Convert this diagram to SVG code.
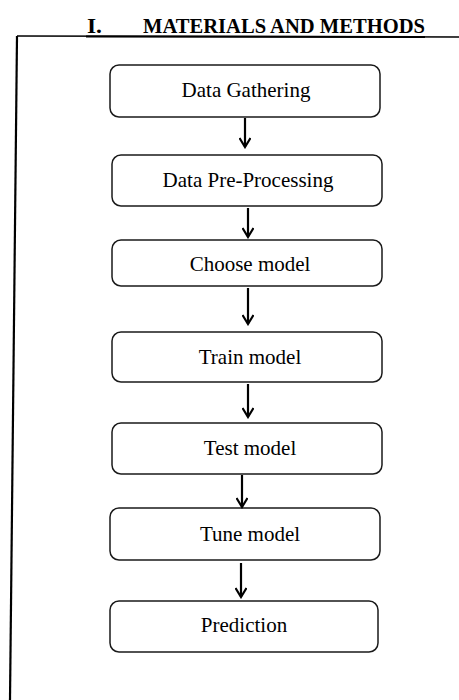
<svg xmlns="http://www.w3.org/2000/svg" width="459" height="700" viewBox="0 0 459 700">
<style>
.box{fill:#fff;stroke:#1a1a1a;stroke-width:1.5}
.lbl{font-family:"Liberation Serif","Times New Roman",serif;font-size:21px;fill:#000;text-anchor:middle}
.title{font-family:"Liberation Serif","Times New Roman",serif;font-size:21px;font-weight:bold;fill:#000}
.conn{stroke:#000;stroke-width:2.2;fill:none}
</style>
<defs>
<marker id="ah" viewBox="0 0 12 12" refX="10" refY="6" markerWidth="12" markerHeight="12" markerUnits="userSpaceOnUse" orient="auto">
<path d="M1,0.5 L10,6 L1,11.5" fill="none" stroke="#000" stroke-width="2.2"/>
</marker>
</defs>
<rect width="459" height="700" fill="#fff"/>
<g id="header">
<text class="title" x="87" y="33" textLength="15" lengthAdjust="spacingAndGlyphs">I.</text>
<text class="title" x="143" y="33" textLength="282" lengthAdjust="spacingAndGlyphs">MATERIALS AND METHODS</text>
<line x1="17" y1="36" x2="459" y2="37" stroke="#000" stroke-width="1.6"/>
<line x1="86" y1="36.5" x2="425" y2="37" stroke="#000" stroke-width="2"/>
<line x1="17" y1="36" x2="10" y2="700" stroke="#000" stroke-width="2.2"/>
</g>
<g id="n1"><rect class="box" x="110" y="65" width="270" height="52" rx="9"/><text class="lbl" x="246" y="97">Data Gathering</text></g>
<g id="n2"><rect class="box" x="112" y="155" width="270" height="51" rx="9"/><text class="lbl" x="248" y="187">Data Pre-Processing</text></g>
<g id="n3"><rect class="box" x="112" y="240" width="270" height="46" rx="9"/><text class="lbl" x="250" y="271">Choose model</text></g>
<g id="n4"><rect class="box" x="112" y="332" width="270" height="50" rx="9"/><text class="lbl" x="250" y="364">Train model</text></g>
<g id="n5"><rect class="box" x="112" y="423" width="270" height="51" rx="9"/><text class="lbl" x="250" y="455">Test model</text></g>
<g id="n6"><rect class="box" x="110" y="508" width="270" height="52" rx="9"/><text class="lbl" x="250" y="541">Tune model</text></g>
<g id="n7"><rect class="box" x="110" y="601" width="268" height="51" rx="9"/><text class="lbl" x="244" y="632">Prediction</text></g>
<g id="connectors">
<line class="conn" x1="245" y1="118" x2="245" y2="147" marker-end="url(#ah)"/>
<line class="conn" x1="248" y1="208" x2="248" y2="237" marker-end="url(#ah)"/>
<line class="conn" x1="248" y1="288" x2="248" y2="324" marker-end="url(#ah)"/>
<line class="conn" x1="248" y1="384" x2="248" y2="417" marker-end="url(#ah)"/>
<line class="conn" x1="242" y1="475" x2="242" y2="507" marker-end="url(#ah)"/>
<line class="conn" x1="241" y1="563" x2="241" y2="597" marker-end="url(#ah)"/>
</g>
</svg>
